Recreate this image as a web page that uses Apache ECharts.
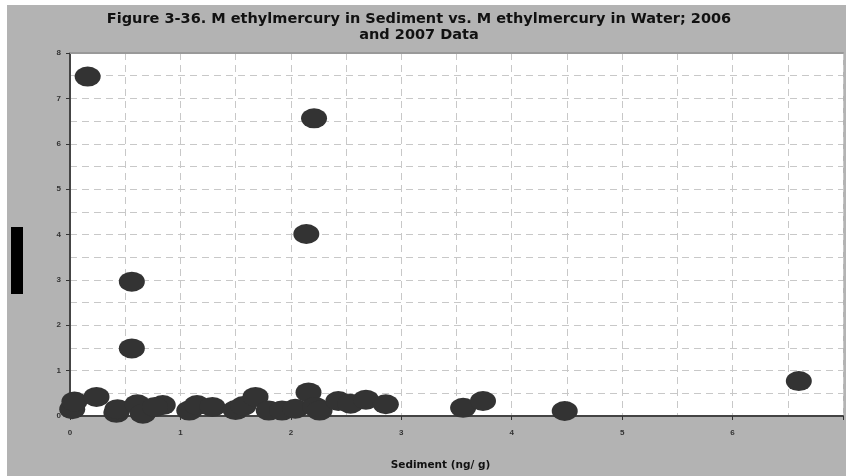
<!DOCTYPE html>
<html><head><meta charset="utf-8">
<script src="https://cdn.jsdelivr.net/npm/echarts@6/dist/echarts.min.js"></script>
<style>html,body{margin:0;padding:0;background:#b3b3b3;overflow:hidden}#c{width:846px;height:476px}</style>
</head><body><div id="c"></div>
<script>
var titleLines = ['Figure 3-36. M ethylmercury in Sediment vs. M ethylmercury in Water; 2006', 'and 2007 Data'];
var xAxisName = 'Sediment (ng/ g)';
var xTicks = [0, 1, 2, 3, 4, 5, 6];
var yTicks = [0, 1, 2, 3, 4, 5, 6, 7, 8];
var sediment = [0.16, 2.21, 2.14, 0.56, 0.56, 6.6,
  0.02, 0.04, 0.24, 0.42, 0.43, 0.61, 0.66, 0.84, 0.77,
  1.08, 1.15, 1.29, 1.5, 1.57, 1.68, 1.80, 1.92, 2.04,
  2.16, 2.22, 2.26, 2.43, 2.54, 2.68, 2.86,
  3.56, 3.74, 4.48];
var water = [7.48, 6.56, 4.01, 2.96, 1.49, 0.77,
  0.15, 0.32, 0.42, 0.07, 0.15, 0.26, 0.05, 0.24, 0.2,
  0.12, 0.24, 0.2, 0.13, 0.22, 0.42, 0.12, 0.12, 0.16,
  0.52, 0.2, 0.12, 0.33, 0.27, 0.36, 0.26,
  0.18, 0.33, 0.11];

var pts = sediment.map(function (x, i) { return [x, water[i]]; });
var chart = echarts.init(document.getElementById('c'));
var lab = { fontFamily: 'Liberation Sans', fontSize: 8, fontWeight: 'bold', color: '#333' };
var dash = { color: '#c8c8c8', type: [7, 5] };
chart.setOption({
  animation: false,
  backgroundColor: '#fff',
  graphic: [
    { type: 'rect', z: -10, shape: { x: 7, y: 5, width: 860, height: 480 }, style: { fill: '#b3b3b3' } },
    { type: 'rect', z: 10, shape: { x: 11, y: 227, width: 12, height: 67 }, style: { fill: '#000' } }
  ],
  title: {
    text: titleLines.join('\n'),
    left: 414, top: 6, textAlign: 'center',
    textStyle: { fontFamily: 'DejaVu Sans', fontSize: 14.5, fontWeight: 'bold', color: '#111', lineHeight: 16 }
  },
  grid: { left: 70, top: 53, width: 777, height: 366, show: true, backgroundColor: '#fff', borderWidth: 0 },
  xAxis: [{
    type: 'value', min: 0, max: 7, interval: 1,
    name: xAxisName, nameLocation: 'middle', nameGap: 44,
    nameTextStyle: { fontFamily: 'DejaVu Sans', fontSize: 10.5, fontWeight: 'bold', color: '#111', padding: [0, 32, 0, 0] },
    axisLine: { show: true, onZero: false, lineStyle: { color: '#444', width: 2 } },
    axisTick: { show: true, length: 4, inside: false, lineStyle: { color: '#333' } },
    axisLabel: Object.assign({ margin: 13, formatter: function (v) { return xTicks.indexOf(v) >= 0 ? String(v) : ''; } }, lab),
    splitLine: { show: true, lineStyle: dash },
    minorTick: { show: false, splitNumber: 2 },
    minorSplitLine: { show: true, lineStyle: dash }
  }, {
    type: 'value', position: 'top', min: 0, max: 7,
    axisLine: { show: true, onZero: false, lineStyle: { color: '#999', width: 2 } },
    axisTick: { show: false }, axisLabel: { show: false }, splitLine: { show: false }
  }],
  yAxis: {
    type: 'value', min: 0, max: 8, interval: 1,
    axisLine: { show: true, onZero: false, lineStyle: { color: '#444', width: 2 } },
    axisTick: { show: true, length: 4, lineStyle: { color: '#333' } },
    axisLabel: Object.assign({ margin: 9, formatter: function (v) { return yTicks.indexOf(v) >= 0 ? String(v) : ''; } }, lab),
    splitLine: { show: true, lineStyle: dash },
    minorTick: { show: false, splitNumber: 2 },
    minorSplitLine: { show: true, lineStyle: dash }
  },
  series: [{
    type: 'scatter', data: pts, symbol: 'circle', symbolSize: [26, 20],
    itemStyle: { color: '#333333', opacity: 1 }
  }]
});
</script></body></html>
